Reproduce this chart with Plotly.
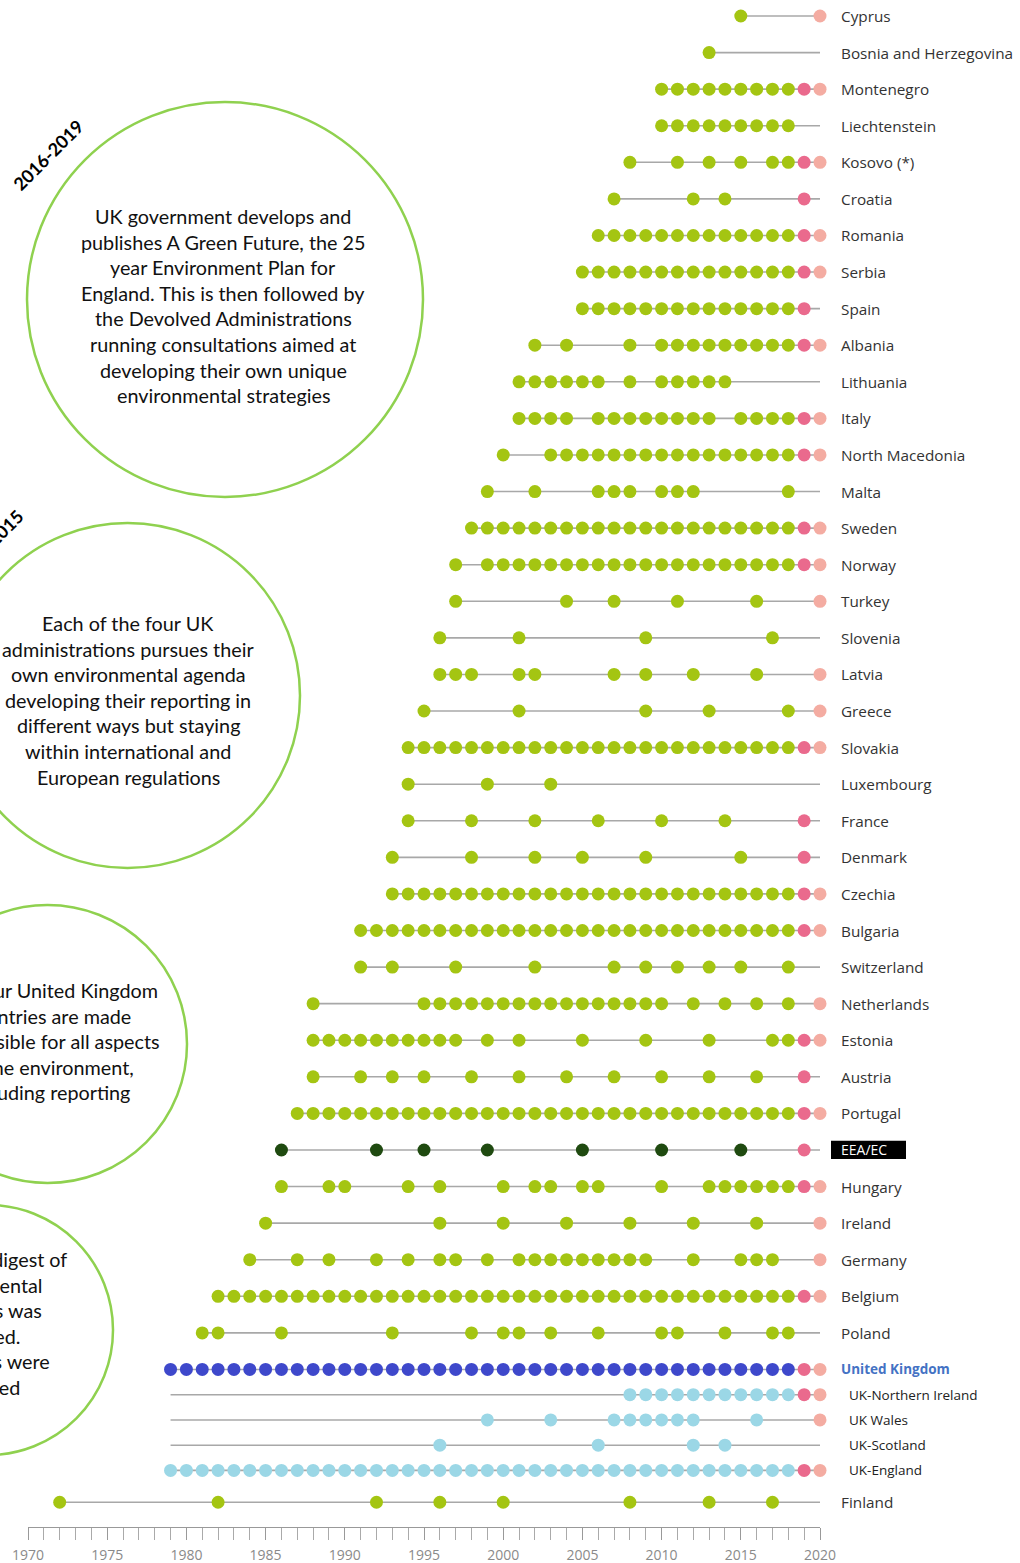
import plotly.graph_objects as go

# ---------------- data ----------------
countries = ["Cyprus", "Bosnia and Herzegovina", "Montenegro", "Liechtenstein", "Kosovo (*)",
             "Croatia", "Romania", "Serbia", "Spain", "Albania", "Lithuania", "Italy",
             "North Macedonia", "Malta", "Sweden", "Norway", "Turkey", "Slovenia", "Latvia",
             "Greece", "Slovakia", "Luxembourg", "France", "Denmark", "Czechia", "Bulgaria",
             "Switzerland", "Netherlands", "Estonia", "Austria", "Portugal", "EEA/EC", "Hungary",
             "Ireland", "Germany", "Belgium", "Poland", "United Kingdom", "UK-Northern Ireland",
             "UK Wales", "UK-Scotland", "UK-England", "Finland"]

# report years (ranges written as "a-b")
report_years = ["2015", "2013", "2010-2018", "2010-2018", "2008,2011,2013,2015,2017,2018",
                "2007,2012,2014", "2006-2018", "2005-2018", "2005-2018", "2002,2004,2008,2010-2018",
                "2001-2006,2008,2010-2014", "2001-2004,2006-2013,2015-2018", "2000,2003-2018",
                "1999,2002,2006,2007,2008,2010,2011,2012,2018", "1998-2018", "1997,1999-2018",
                "1997,2004,2007,2011,2016", "1996,2001,2009,2017",
                "1996,1997,1998,2001,2002,2007,2009,2012,2016", "1995,2001,2009,2013,2018",
                "1994-2018", "1994,1999,2003", "1994,1998,2002,2006,2010,2014",
                "1993,1998,2002,2005,2009,2015", "1993-2018", "1991-2018",
                "1991,1993,1997,2002,2007,2009,2011,2013,2015,2018",
                "1988,1995-2010,2012,2014,2016,2018",
                "1988-1997,1999,2001,2005,2009,2013,2017,2018",
                "1988,1991,1993,1995,1998,2001,2004,2007,2010,2013,2016", "1987-2018",
                "1986,1992,1995,1999,2005,2010,2015",
                "1986,1989,1990,1994,1996,2000,2002,2003,2005,2006,2010,2013-2018",
                "1985,1996,2000,2004,2008,2012,2016",
                "1984,1987,1989,1992,1994,1996,1997,1999,2001-2009,2012,2015,2016,2017",
                "1982-2018", "1981,1982,1986,1993,1998,2000,2001,2003,2006,2010,2011,2014,2017,2018",
                "1979-2018", "2008-2018", "1999,2003,2007-2012,2016", "1996,2006,2012,2014",
                "1979-2018", "1972,1982,1992,1996,2000,2008,2013,2017"]

# 2019 mark (dark pink) and 2020 mark (light pink): 1 = present
mark_2019 = [0, 0, 1, 0, 1, 1, 1, 1, 1, 1, 0, 1, 1, 0, 1, 1, 0, 0, 0, 0, 1, 0, 1, 1, 1, 1,
             0, 0, 1, 1, 1, 1, 1, 0, 0, 1, 0, 1, 1, 0, 0, 1, 0]
mark_2020 = [1, 0, 1, 0, 1, 0, 1, 1, 0, 1, 0, 1, 1, 0, 1, 1, 1, 0, 1, 1, 1, 0, 0, 0, 1, 1,
             0, 1, 1, 0, 1, 0, 1, 1, 1, 1, 0, 1, 1, 1, 0, 1, 0]

# group of each row: g = country, e = EEA/EC, u = United Kingdom, s = UK administrations
row_group = "gggggggggggggggggggggggggggggggegggggussssg"

timeline_start_uk_admin = 1979
timeline_end = 2020

# annotation texts
circle_texts = [
    ["UK government develops and", "publishes A Green Future, the 25", "year Environment Plan for",
     "England. This is then followed by", "the Devolved Administrations",
     "running consultations aimed at", "developing their own unique", "environmental strategies"],
    ["Each of the four UK", "administrations pursues their", "own environmental agenda",
     "developing their reporting in", "different ways but staying", "within international and",
     "European regulations"],
    ["The four United Kingdom", "countries are made", "responsible for all aspects",
     "of the environment,", "including reporting"],
    ["The first digest of", "environmental", "statistics was", "published.",
     "Statistics were", "collected"],
]
period_labels = ["2016-2019", "2011-2015"]

# ---------------- styling / layout helpers ----------------
W, H = 1020, 1563
L, R, T, B = 28, 200, 0, 36
PW, PH = W - L - R, H - T - B
X0, X1 = 1970, 2020
ROW_PX = 36.58
TOP_PX = 16


def px_x(x):
    return (x - L) / PW


def px_y(y):
    return 1 - (y - T) / PH


def parse(spec):
    out = []
    for part in spec.split(","):
        if "-" in part:
            a, b = part.split("-")
            out.extend(range(int(a), int(b) + 1))
        else:
            out.append(int(part))
    return out


# row vertical positions (row units); UK administrations are packed tighter
ypos = []
acc = 0
for i, c in enumerate(countries):
    if i > 0:
        if row_group[i] == "s":
            acc += 0.69
        elif c == "Finland":
            acc += 0.87
        else:
            acc += 1
    ypos.append(acc)

GREEN = "#a4c512"
DKGREEN = "#1f4a10"
BLUE = "#3e48cb"
LTBLUE = "#9bd7e6"
PINK = "#ea6a8d"
LTPINK = "#f4aca2"
GRAY = "#a8a8a8"
group_color = {"g": GREEN, "e": DKGREEN, "u": BLUE, "s": LTBLUE}

fig = go.Figure()

# timelines
lx, ly = [], []
for i, c in enumerate(countries):
    yrs = parse(report_years[i])
    start = timeline_start_uk_admin if row_group[i] == "s" else min(yrs)
    lx += [start, timeline_end, None]
    ly += [ypos[i], ypos[i], None]
fig.add_trace(go.Scatter(x=lx, y=ly, mode="lines", line=dict(color=GRAY, width=1.6),
                         hoverinfo="skip", showlegend=False, cliponaxis=False))

# dots per colour group
for g, col in group_color.items():
    xs, ys, names = [], [], []
    for i, c in enumerate(countries):
        if row_group[i] != g:
            continue
        for yr in parse(report_years[i]):
            xs.append(yr)
            ys.append(ypos[i])
            names.append(c)
    fig.add_trace(go.Scatter(x=xs, y=ys, mode="markers", text=names,
                             marker=dict(color=col, size=13, line=dict(width=0)),
                             hovertemplate="%{text}: %{x}<extra></extra>",
                             showlegend=False, cliponaxis=False))

for flags, yr, col in [(mark_2019, 2019, PINK), (mark_2020, 2020, LTPINK)]:
    idx = [i for i in range(len(countries)) if flags[i]]
    fig.add_trace(go.Scatter(x=[yr] * len(idx), y=[ypos[i] for i in idx],
                             mode="markers", text=[countries[i] for i in idx],
                             marker=dict(color=col, size=13, line=dict(width=0)),
                             hovertemplate="%{text}: %{x}<extra></extra>",
                             showlegend=False, cliponaxis=False))

annotations = []
shapes = []

# row labels
LABEL_X = px_x(839)
for i, c in enumerate(countries):
    g = row_group[i]
    if g == "e":
        shapes.append(dict(type="rect", xref="paper", yref="y", x0=px_x(831), x1=px_x(906),
                           y0=ypos[i] - 0.25, y1=ypos[i] + 0.25, fillcolor="#000000",
                           line=dict(width=0), layer="above"))
        annotations.append(dict(x=LABEL_X, y=ypos[i], xref="paper", yref="y", text=c,
                                showarrow=False, xanchor="left", yanchor="middle",
                                font=dict(family="Open Sans", size=14, color="#ffffff")))
    elif g == "u":
        annotations.append(dict(x=LABEL_X, y=ypos[i], xref="paper", yref="y", text="<b>" + c + "</b>",
                                showarrow=False, xanchor="left", yanchor="middle",
                                font=dict(family="Open Sans", size=13.5, color="#4472c4")))
    elif g == "s":
        annotations.append(dict(x=px_x(847), y=ypos[i], xref="paper", yref="y", text=c,
                                showarrow=False, xanchor="left", yanchor="middle",
                                font=dict(family="Open Sans", size=13.5, color="#222222")))
    else:
        annotations.append(dict(x=LABEL_X, y=ypos[i], xref="paper", yref="y", text=c,
                                showarrow=False, xanchor="left", yanchor="middle",
                                font=dict(family="Open Sans", size=15.3, color="#333333")))

# circles with narrative text
circles = [(27, 102, 423, 497), (-45, 523, 300, 868), (-92, 905, 187, 1183), (-137, 1205, 113, 1455)]
text_centers = [(223, 216), (128, 623), (48, 990), (None, 1259)]
# the last circle's lines are only partly visible; anchor them by their right edges
last_circle_right_edges = [69, 44, 44, 22, 52, 22]
LINE_H = 25.6
for ci, ((x0, y0, x1, y1), lines, (cx, cy)) in enumerate(zip(circles, circle_texts, text_centers)):
    shapes.append(dict(type="circle", xref="paper", yref="paper", x0=px_x(x0), x1=px_x(x1),
                       y0=px_y(y1), y1=px_y(y0), line=dict(color="#8fd14f", width=2.5)))
    for k, line in enumerate(lines):
        if cx is None:
            ax, anch = px_x(last_circle_right_edges[k]), "right"
        else:
            ax, anch = px_x(cx), "center"
        annotations.append(dict(x=ax, y=px_y(cy + k * LINE_H), xref="paper", yref="paper",
                                text=line, showarrow=False, xanchor=anch, yanchor="middle",
                                font=dict(family="Lato", size=19.8, color="#111111")))

for lab, (cx, cy) in zip(period_labels, [(48, 155), (-12, 545)]):
    annotations.append(dict(x=px_x(cx), y=px_y(cy), xref="paper", yref="paper",
                            text="<b>" + lab + "</b>", showarrow=False, textangle=-45,
                            xanchor="center", yanchor="middle",
                            font=dict(family="Lato", size=18, color="#000000")))

fig.update_layout(
    width=W, height=H, margin=dict(l=L, r=R, t=T, b=B),
    paper_bgcolor="white", plot_bgcolor="white", showlegend=False,
    annotations=annotations, shapes=shapes,
    xaxis=dict(range=[X0, X1], dtick=5, tick0=1970, showgrid=False, zeroline=False,
               showline=True, linecolor="#999999", linewidth=1,
               ticks="outside", ticklen=12, tickcolor="#999999",
               minor=dict(dtick=1, ticks="outside", ticklen=12, tickcolor="#aaaaaa"),
               tickfont=dict(family="Open Sans", size=14, color="#8a8a8a"),
               ticklabelstandoff=3, fixedrange=True),
    yaxis=dict(range=[(H - B - T - TOP_PX) / ROW_PX, -TOP_PX / ROW_PX], visible=False,
               fixedrange=True),
)

fig.write_html("out.html", config={"displayModeBar": False})

# remove the browser's default page margin so the figure sits at the page origin
with open("out.html", encoding="utf-8") as f:
    html = f.read()
html = html.replace("<head>", "<head><style>html,body{margin:0;padding:0;overflow:hidden;}</style>", 1)
with open("out.html", "w", encoding="utf-8") as f:
    f.write(html)
